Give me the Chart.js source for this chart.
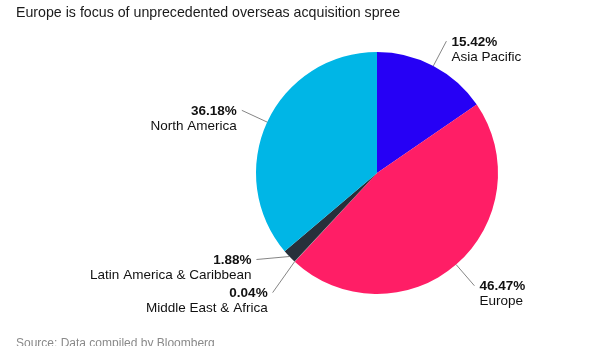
<!doctype html>
<html lang="en">
  <head>
    <meta charset="UTF-8" />
    <title>Europe is focus of unprecedented overseas acquisition spree</title>
    <script src="https://cdn.jsdelivr.net/npm/chart.js"></script>
    <style>
      html, body { margin: 0; padding: 0; background: #fff; }
      body { width: 616px; height: 346px; position: relative; overflow: hidden; font-family: 'Liberation Sans', Arial, sans-serif; }
      .subtitle { position: absolute; left: 16px; top: 4px; font-size: 14.2px; color: #1a1a1a; white-space: nowrap; }
      .source { position: absolute; left: 16px; top: 336px; font-size: 12px; color: #8a8a8a; white-space: nowrap; }
      .chart-box { position: absolute; left: 0; top: 0; width: 616px; height: 346px; }
    </style>
  </head>
  <body>
    <div class="chart-box"><canvas id="pieChart"></canvas></div>
    <div class="subtitle">Europe is focus of unprecedented overseas acquisition spree</div>
    <div class="source">Source: Data compiled by Bloomberg</div>

    <script>
      // regions in clockwise order from 12 o'clock
      const regions = ['Asia Pacific', 'Europe', 'Middle East & Africa', 'Latin America & Caribbean', 'North America']
      const shares = [15.42, 46.47, 0.04, 1.88, 36.18]
      const colors = ['#2600f5', '#ff1e66', '#8f979f', '#27303b', '#00b6e6']

      // where each leader line ends, relative to the slice edge point
      const leaders = [
        { radial: 28, align: 'left' },
        { radial: 28, align: 'left' },
        { dx: -22, dy: 31, align: 'right' },
        { dx: -33, dy: 3, align: 'right' },
        { radial: 28, align: 'right' },
      ]

      const calloutPlugin = {
        id: 'callouts',
        afterDatasetsDraw(chart) {
          const ctx = chart.ctx
          const arcs = chart.getDatasetMeta(0).data
          ctx.save()
          arcs.forEach((arc, i) => {
            const mid = (arc.startAngle + arc.endAngle) / 2
            const r = arc.outerRadius
            const x0 = arc.x + Math.cos(mid) * r
            const y0 = arc.y + Math.sin(mid) * r
            const L = leaders[i]
            let x1, y1
            if (L.radial) {
              x1 = arc.x + Math.cos(mid) * (r + L.radial)
              y1 = arc.y + Math.sin(mid) * (r + L.radial)
            } else {
              x1 = x0 + L.dx
              y1 = y0 + L.dy
            }
            ctx.strokeStyle = '#666'
            ctx.lineWidth = 0.8
            ctx.beginPath()
            ctx.moveTo(x0, y0)
            ctx.lineTo(x1, y1)
            ctx.stroke()

            const tx = L.align === 'left' ? x1 + 5 : x1 - 5
            ctx.textAlign = L.align
            ctx.textBaseline = 'middle'
            ctx.fillStyle = '#111'
            ctx.font = 'bold 13.5px "Liberation Sans", Arial, sans-serif'
            ctx.fillText(shares[i].toFixed(2) + '%', tx, y1 + 1)
            ctx.font = '13.5px "Liberation Sans", Arial, sans-serif'
            ctx.fillText(regions[i], tx, y1 + 16)
          })
          ctx.restore()
        },
      }

      new Chart(document.getElementById('pieChart'), {
        type: 'pie',
        data: {
          labels: regions,
          datasets: [
            {
              data: shares,
              backgroundColor: colors,
              borderWidth: 0,
            },
          ],
        },
        options: {
          responsive: true,
          maintainAspectRatio: false,
          animation: false,
          layout: { padding: { left: 256, right: 118, top: 52, bottom: 52 } },
          plugins: {
            legend: { display: false },
            tooltip: { enabled: false },
          },
        },
        plugins: [calloutPlugin],
      })
    </script>
  </body>
</html>
